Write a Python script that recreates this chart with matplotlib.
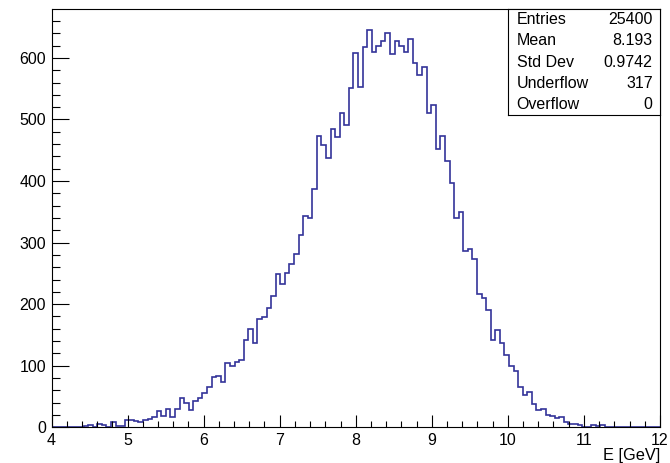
import numpy as np
import matplotlib.pyplot as plt
from matplotlib.ticker import MultipleLocator

plt.rcParams['font.family'] = ['Liberation Sans', 'DejaVu Sans']

# binning of the energy histogram
e_min, e_max, n_bins = 4.0, 12.0, 133

# bin contents, left to right
counts = [
    1, 1, 0, 1, 0, 1, 1, 2, 3, 1,
    5, 4, 1, 9, 2, 2, 12, 12, 10, 8,
    12, 14, 16, 26, 18, 29, 17, 30, 47, 40,
    28, 42, 48, 55, 66, 82, 83, 74, 104, 99,
    106, 110, 142, 160, 137, 176, 179, 194, 214, 249,
    233, 251, 265, 282, 313, 343, 340, 387, 473, 458,
    437, 484, 471, 510, 491, 551, 608, 552, 618, 646,
    610, 620, 627, 640, 607, 628, 620, 609, 630, 592,
    572, 585, 511, 524, 452, 473, 433, 397, 340, 350,
    286, 289, 274, 217, 210, 191, 141, 158, 137, 118,
    99, 91, 65, 53, 57, 38, 28, 29, 20, 18,
    15, 17, 8, 6, 5, 3, 1, 1, 4, 2,
    3, 1, 0, 0, 0, 0, 0, 0, 0, 0,
    0, 0, 0,
]

# statistics box
stat_names = ['Entries', 'Mean', 'Std Dev', 'Underflow', 'Overflow']
stat_values = ['25400', '8.193', '0.9742', '317', '0']

edges = np.linspace(e_min, e_max, n_bins + 1)

fig = plt.figure(figsize=(6.7, 4.63), dpi=100)
ax = fig.add_axes([0.0769, 0.0771, 0.9081, 0.9029])
ax.stairs(counts, edges, color='#333399', linewidth=1.2, baseline=0)

ax.set_xlim(e_min, e_max)
ax.set_ylim(0, 679)
ax.xaxis.set_major_locator(MultipleLocator(1))
ax.xaxis.set_minor_locator(MultipleLocator(0.2))
ax.yaxis.set_major_locator(MultipleLocator(100))
ax.yaxis.set_minor_locator(MultipleLocator(20))
ax.tick_params(which='both', direction='in', width=0.8, labelsize=11.5)
ax.tick_params(axis='x', which='major', length=8.6, pad=4.3)
ax.tick_params(axis='x', which='minor', length=4.3)
ax.tick_params(axis='y', which='major', length=12.2, pad=4)
ax.tick_params(axis='y', which='minor', length=6.1)
for sp in ax.spines.values():
    sp.set_linewidth(0.8)

fig.text(0.985, 0.0065, 'E [GeV]', ha='right', va='baseline', fontsize=11.8)

# stats panel in the top right corner
box = fig.add_axes([0.7575, 0.7516, 0.2275, 0.2284])
box.set_xticks([])
box.set_yticks([])
for sp in box.spines.values():
    sp.set_linewidth(0.8)
for i, (name, val) in enumerate(zip(stat_names, stat_values)):
    y = 1 - (i + 0.5) / len(stat_names)
    box.text(0.06, y, name, ha='left', va='center', fontsize=11.5, transform=box.transAxes)
    box.text(0.952, y, val, ha='right', va='center', fontsize=11.5, transform=box.transAxes)

fig.savefig('out.png', dpi=100)
